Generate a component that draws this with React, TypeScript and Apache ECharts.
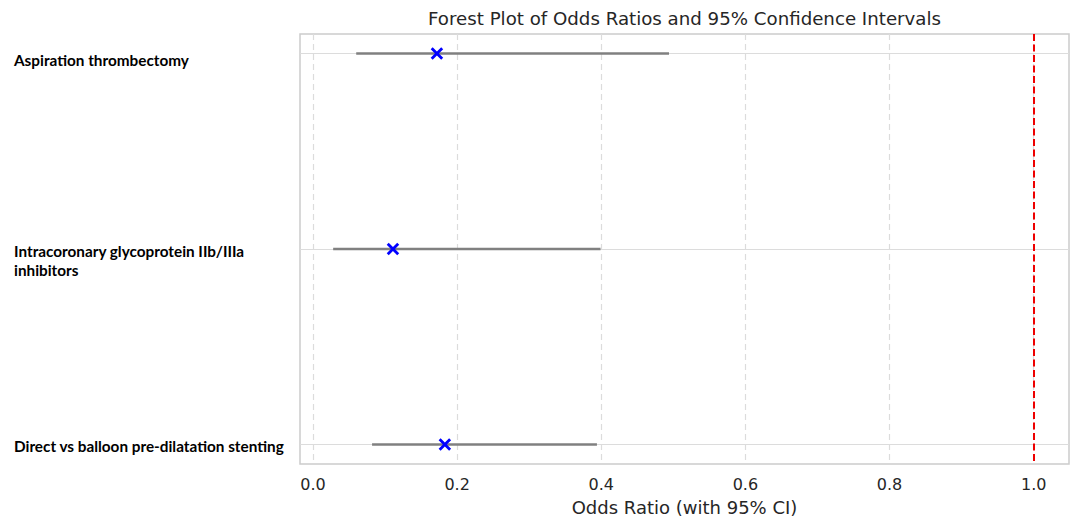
import React, { useEffect, useRef } from "react";
import * as echarts from "echarts";

const categories = [
  "Aspiration thrombectomy",
  "Intracoronary glycoprotein IIb/IIIa\ninhibitors",
  "Direct vs balloon pre-dilatation stenting",
];
const oddsRatios = [0.172, 0.111, 0.183];
const ciLower = [0.06, 0.028, 0.082];
const ciUpper = [0.494, 0.399, 0.394];
const xTicks = [0, 0.2, 0.4, 0.6, 0.8, 1.0];
const referenceLine = 1.0;

// label vertical nudges (layout only)
const labelNudge = [0.033, 0.061, 0.008];

const X_SYMBOL =
  "path://M0,1.6 L1.6,0 L5,3.4 L8.4,0 L10,1.6 L6.6,5 L10,8.4 L8.4,10 L5,6.6 L1.6,10 L0,8.4 L3.4,5 Z";

export default function App() {
  const ref = useRef<HTMLDivElement>(null);
  useEffect(() => {
    if (!ref.current) return;
    const chart = echarts.init(ref.current, null, { renderer: "svg" });
    const labelValues = categories.map((_, i) => i + labelNudge[i]);
    const option: any = {
      animation: false,
      backgroundColor: "#ffffff",
      title: {
        text: "Forest Plot of Odds Ratios and 95% Confidence Intervals",
        left: 679.5,
        textAlign: "center",
        top: 4,
        textStyle: {
          fontFamily: "DejaVu Sans",
          fontSize: 18.2,
          fontWeight: "normal",
          color: "#262626",
        },
      },
      grid: {
        left: 300,
        right: 3,
        top: 34,
        bottom: 54,
        outerBoundsMode: "none",
        containLabel: false,
        show: true,
        borderColor: "#cccccc",
        borderWidth: 1.5,
        backgroundColor: "transparent",
      },
      xAxis: {
        type: "value",
        min: -0.018,
        max: 1.049,
        name: "Odds Ratio (with 95% CI)",
        nameLocation: "middle",
        nameGap: 34.5,
        nameMoveOverlap: false,
        nameTextStyle: {
          fontFamily: "DejaVu Sans",
          fontSize: 18,
          color: "#262626",
        },
        axisLine: { show: false },
        axisTick: { show: false },
        splitLine: { show: false },
        axisLabel: {
          customValues: xTicks,
          formatter: (v: number) => v.toFixed(1),
          fontFamily: "DejaVu Sans",
          fontSize: 16,
          color: "#262626",
          margin: 12,
        },
      },
      yAxis: {
        type: "value",
        min: -0.1,
        max: 2.1,
        inverse: true,
        axisLine: { show: false },
        axisTick: { show: false },
        splitLine: { show: false },
        axisLabel: {
          customValues: labelValues,
          formatter: (v: number) => categories[Math.round(v)] ?? "",
          align: "left",
          margin: 286,
          fontFamily: "Lato",
          fontWeight: "bold",
          fontSize: 15.3,
          lineHeight: 19,
          color: "#000000",
        },
      },
      series: [
        {
          type: "custom",
          silent: true,
          z: 0,
          renderItem: () => ({ type: "group", children: [] }),
          data: [[0, 0]],
          markLine: {
            silent: true,
            z: 0,
            symbol: "none",
            label: { show: false },
            animation: false,
            data: [
              ...xTicks.map((t) => ({
                xAxis: t,
                lineStyle: { color: "#dcdcdc", width: 1.2, type: [6, 4] },
              })),
              ...categories.map((_, i) => ({
                yAxis: i,
                lineStyle: { color: "#dcdcdc", width: 1.2, type: "solid" },
              })),
            ],
          },
        },
        {
          type: "custom",
          z: 3,
          silent: true,
          data: categories.map((_, i) => [ciLower[i], ciUpper[i], i]),
          encode: { x: [0, 1], y: 2 },
          renderItem: (params: any, api: any) => {
            const a = api.coord([api.value(0), api.value(2)]);
            const b = api.coord([api.value(1), api.value(2)]);
            return {
              type: "line",
              shape: { x1: a[0], y1: a[1], x2: b[0], y2: b[1] },
              style: { stroke: "#808080", lineWidth: 2.4, opacity: 1 },
            };
          },
        },
        {
          type: "scatter",
          z: 5,
          symbol: X_SYMBOL,
          symbolSize: 12.5,
          itemStyle: { color: "#0000ff", opacity: 1 },
          data: categories.map((_, i) => [oddsRatios[i], i]),
          markLine: {
            silent: true,
            z: 2,
            symbol: "none",
            label: { show: false },
            animation: false,
            data: [
              {
                xAxis: referenceLine,
                lineStyle: { color: "#ee0000", width: 2, type: [7, 3.5] },
              },
            ],
          },
        },
      ],
    };
    chart.setOption(option);
    return () => chart.dispose();
  }, []);
  return (
    <div
      ref={ref}
      style={{ position: "fixed", left: 0, top: 0, width: 1072, height: 518 }}
    />
  );
}
